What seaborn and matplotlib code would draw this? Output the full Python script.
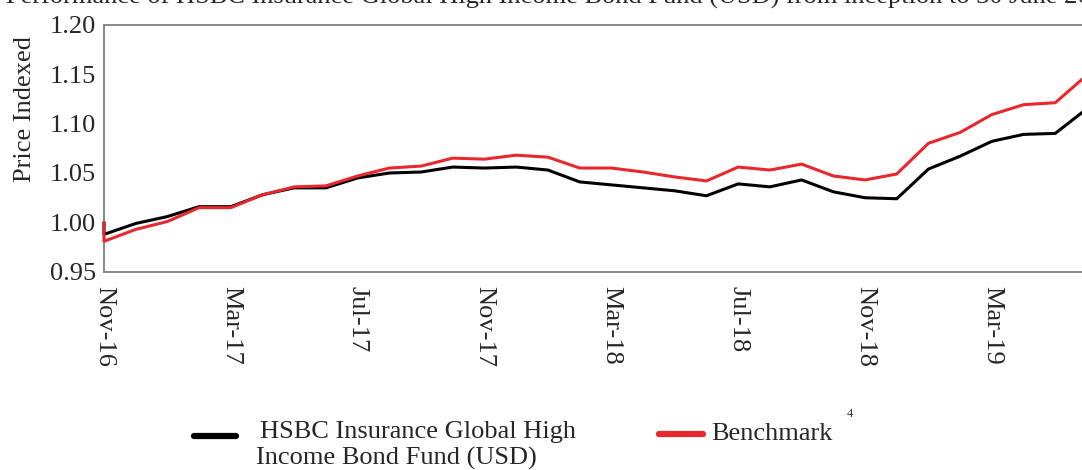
import matplotlib
matplotlib.use("Agg")
import matplotlib.pyplot as plt
from matplotlib.lines import Line2D
import seaborn as sns
import pandas as pd

# Month-end dates; the first entry is the inception point (indexed to 1.00)
dates = ["2016-11-01"] + [str(p.end_time.date()) for p in pd.period_range("2016-11", "2019-06", freq="M")]

fund = [1.000,
        0.988, 0.999, 1.006, 1.016, 1.016, 1.028, 1.035, 1.035, 1.045, 1.050,
        1.051, 1.056, 1.055, 1.056, 1.053, 1.041, 1.038, 1.035, 1.032, 1.027,
        1.039, 1.036, 1.043, 1.031, 1.025, 1.024, 1.054, 1.067, 1.082, 1.089,
        1.090, 1.115]

benchmark = [1.000,
             0.981, 0.993, 1.001, 1.015, 1.015, 1.028, 1.036, 1.037, 1.047, 1.055,
             1.057, 1.065, 1.064, 1.068, 1.066, 1.055, 1.055, 1.051, 1.046, 1.042,
             1.056, 1.053, 1.059, 1.047, 1.043, 1.049, 1.080, 1.091, 1.109, 1.119,
             1.121, 1.149]

tick_labels = ["Nov-16", "Mar-17", "Jul-17", "Nov-17", "Mar-18", "Jul-18", "Nov-18", "Mar-19"]
y_ticks = [0.95, 1.00, 1.05, 1.10, 1.15, 1.20]

fund_name = "HSBC Insurance Global High Income Bond Fund (USD)"
bench_name = "Benchmark"
title = "Performance of HSBC Insurance Global High Income Bond Fund (USD) from inception to 30 June 2019"

RED = "#e8282c"

# x position = months elapsed since Nov-16
dt = pd.to_datetime(dates)
months = (dt.year - 2016) * 12 + (dt.month - 11)

df = pd.DataFrame({
    "month": list(months) * 2,
    "value": fund + benchmark,
    "series": [fund_name] * len(fund) + [bench_name] * len(benchmark),
})

sns.set_style("white")
plt.rcParams["font.family"] = ["Liberation Serif", "DejaVu Serif"]

W, H = 1082, 470
fig = plt.figure(figsize=(W / 100, H / 100), dpi=100)
left_px, right_px, top_px, bottom_px = 104, 1087, 24.5, 272
ax = fig.add_axes([left_px / W, 1 - bottom_px / H,
                   (right_px - left_px) / W, (bottom_px - top_px) / H])

sns.lineplot(data=df, x="month", y="value", hue="series",
             palette={fund_name: "black", bench_name: RED},
             hue_order=[fund_name, bench_name],
             estimator=None, sort=False, linewidth=2.2, legend=False, ax=ax)
for line in ax.get_lines():
    line.set_zorder(3)
    line.set_clip_on(False)

ax.set_xlim(0, 31)
ax.set_ylim(0.95, 1.20)
ax.set_xticks([4 * i for i in range(len(tick_labels))])
ax.set_xticklabels(tick_labels, rotation=-90, fontsize=19)
ax.set_yticks(y_ticks)
ax.set_yticklabels([f"{v:.2f}" for v in y_ticks], fontsize=19)
ax.set_xlabel("")
ax.set_ylabel("Price Indexed", fontsize=19)
ax.yaxis.set_label_coords(-0.069, 0.66)

for side in ["left", "bottom", "top"]:
    ax.spines[side].set_color("#808080")
    ax.spines[side].set_linewidth(1.3)
ax.spines["right"].set_visible(False)
ax.tick_params(axis="y", direction="inout", length=8, width=1, color="black", pad=2)
ax.tick_params(axis="x", direction="out", length=4, width=1, color="black", pad=6)
ax.grid(False)

# Title (sits partly above the canvas)
fig.text(6 / W, 1 - 4 / H, title, fontsize=19, ha="left", va="baseline")

# Legend
def fx(px):
    return px / W

def fy(py):
    return 1 - py / H

fig.add_artist(Line2D([fx(194), fx(236)], [fy(436), fy(436)], color="black",
                      linewidth=4.5, solid_capstyle="round"))
fig.text(fx(260), fy(438), "HSBC Insurance Global High", fontsize=19, va="baseline")
fig.text(fx(256), fy(465), "Income Bond Fund (USD)", fontsize=19, va="baseline")
fig.add_artist(Line2D([fx(659), fx(703)], [fy(434), fy(434)], color=RED,
                      linewidth=4.5, solid_capstyle="round"))
fig.text(fx(711), fy(440), bench_name, fontsize=19, va="baseline")
fig.text(fx(847), fy(417), "4", fontsize=9, va="baseline", color="#333333")

fig.savefig("out.png", dpi=100)
